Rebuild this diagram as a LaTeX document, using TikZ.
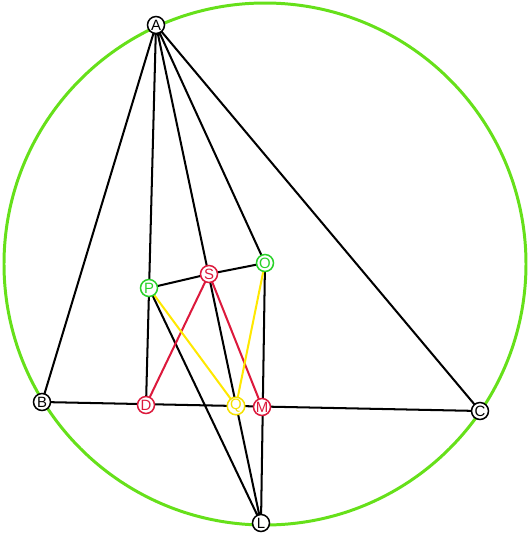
\documentclass[tikz,border=0pt]{standalone}
\usepackage{fontspec}
\setmainfont{Liberation Sans}
\begin{document}
\begin{tikzpicture}[x=0.02cm,y=-0.02cm,
  pt/.style={circle,draw=#1,line width=0.85pt,fill=white,inner sep=0pt,minimum size=0.34cm,text=#1,font=\fontsize{8.5}{8.5}\selectfont},
  blk/.style={draw=black,line width=1.15pt},
  redl/.style={draw={rgb,255:red,220;green,25;blue,60},line width=1.15pt},
  yell/.style={draw={rgb,255:red,255;green,232;blue,0},line width=1.15pt}]
\definecolor{gcirc}{RGB}{102,224,26}
\definecolor{gnode}{RGB}{40,210,40}
\definecolor{rnode}{RGB}{220,25,60}
\definecolor{ynode}{RGB}{245,225,0}
\useasboundingbox (0,0) rectangle (530,535);
\coordinate (ctr) at (265,264);
\draw[gcirc,line width=1.7pt] (ctr) circle[x radius=261,y radius=261];
\coordinate (cA) at (156,25);
\coordinate (cB) at (42,402);
\coordinate (cC) at (480,411);
\coordinate (cL) at (261,523);
\coordinate (cP) at (149,288);
\coordinate (cS) at (209,274);
\coordinate (cO) at (265,263);
\coordinate (cD) at (146,405);
\coordinate (cQ) at (236,406);
\coordinate (cM) at (262,407);
% black lines
\path[blk] (cA) -- (cB) (cA) -- (cC) (cB) -- (cC)
  (cA) -- (cD) (cA) -- (cL) (cA) -- (cO) (cO) -- (cL)
  (cP) -- (cS) -- (cO) (cP) -- (cL);
% coloured lines
\path[redl] (cD) -- (cS) -- (cM);
\path[yell] (cP) -- (cQ) -- (cO);
% nodes
\node[pt=black] (A) at (cA) {A};
\node[pt=black] (B) at (cB) {B};
\node[pt=black] (C) at (cC) {C};
\node[pt=black] (L) at (cL) {L};
\node[pt=gnode] (P) at (cP) {P};
\node[pt=rnode] (S) at (cS) {S};
\node[pt=gnode] (O) at (cO) {O};
\node[pt=rnode] (D) at (cD) {D};
\node[pt=ynode] (Q) at (cQ) {Q};
\node[pt=rnode] (M) at (cM) {M};
\end{tikzpicture}
\end{document}
